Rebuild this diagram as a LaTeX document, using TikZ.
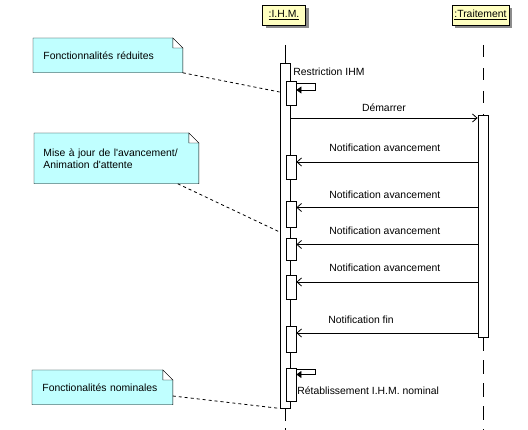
\documentclass[tikz,border=0pt]{standalone}
\usepackage{fontspec}
\setmainfont{Liberation Sans}
\usetikzlibrary{shadows,arrows.meta,backgrounds}
\definecolor{hdrfill}{HTML}{FFFFC0}
\definecolor{notefill}{HTML}{C0FFFF}
\definecolor{shadowgray}{HTML}{8C8C8C}
\begin{document}
\begin{tikzpicture}[x=1pt,y=-1pt,line width=0.8pt,
  font=\fontsize{10.4}{12}\selectfont,
  header/.style={draw,fill=hdrfill,minimum height=20pt,inner sep=2pt,
    drop shadow={shadow xshift=3pt,shadow yshift=-3pt,fill=shadowgray,opacity=1}},
  actbox/.style={draw,fill=white,minimum width=10pt,inner sep=0pt},
  notebox/.style={anchor=north west,align=left,inner ysep=0pt},
  msgarrow/.style={-{Straight Barb[length=4.5pt,width=8pt]}},
  selfarrow/.style={-{Triangle[length=5pt,width=7pt]}},
  notelink/.style={dash pattern=on 3pt off 3pt},
  lifedash/.style={dash pattern=on 12pt off 11pt},
  lifedashb/.style={dash pattern=on 14pt off 9pt},
  lbl/.style={inner sep=0pt}]
\useasboundingbox (0,0) rectangle (528,430);

% headers
\node[header,minimum width=43pt] (ihm) at (284,15) {\underline{:I.H.M.}};
\node[header,minimum width=57pt] (trt) at (480.5,15) {\underline{:Traitement}};
\coordinate (ihmL) at (285,45);
\coordinate (trtL) at (483,45);

% activations
\node[actbox,minimum height=345pt] (mact) at (285,235.5) {};
\node[actbox,minimum height=222pt] (tact) at (483,226) {};
\node[actbox,minimum height=24pt] (a1) at (291,93) {};
\node[actbox,minimum height=24pt] (a2) at (291,167) {};
\node[actbox,minimum height=26pt] (a3) at (291,214) {};
\node[actbox,minimum height=22pt] (a4) at (291,249) {};
\node[actbox,minimum height=24pt] (a5) at (291,287) {};
\node[actbox,minimum height=26pt] (a6) at (291,339) {};
\node[actbox,minimum height=33pt] (a7) at (291,384.5) {};

% lifelines
\draw (ihmL) -- (mact.north);
\draw[dash pattern=on 13pt off 7pt] (mact.south) -- (ihmL |- 0,432);
\draw[lifedash] (trtL) -- (tact.north);
\draw[lifedashb] (tact.south) -- (trtL |- 0,432);

% self messages
\draw[selfarrow] (a1.east |- 0,83) -- (315,83) -- (315,90) -- (a1.east |- 0,90);
\node[lbl,anchor=west] (lrestr) at (293,71.5) {Restriction IHM};
\draw[selfarrow] (a7.east |- 0,369) -- (315,369) -- (315,374.5) -- (a7.east |- 0,374.5);
\node[lbl,anchor=west] (lretab) at (297,391) {Rétablissement I.H.M. nominal};

% messages
\draw[msgarrow] (mact.east |- 0,118) -- (tact.west |- 0,118);
\node[lbl] (ldem) at (384,108) {Démarrer};
\draw[msgarrow] (tact.west |- 0,162) -- (a2.east |- 0,162);
\node[lbl,anchor=west] (ln1) at (329,148) {Notification avancement};
\draw[msgarrow] (tact.west |- 0,207.5) -- (a3.east |- 0,207.5);
\node[lbl,anchor=west] (ln2) at (329,195) {Notification avancement};
\draw[msgarrow] (tact.west |- 0,244.5) -- (a4.east |- 0,244.5);
\node[lbl,anchor=west] (ln3) at (329,231) {Notification avancement};
\draw[msgarrow] (tact.west |- 0,282) -- (a5.east |- 0,282);
\node[lbl,anchor=west] (ln4) at (329,268) {Notification avancement};
\draw[msgarrow] (tact.west |- 0,333) -- (a6.east |- 0,333);
\node[lbl,anchor=west] (ln5) at (328,320) {Notification fin};

% notes
\node[notebox,minimum width=149pt,minimum height=34pt,text width=129pt,inner xsep=10pt] (n1) at (33,38) {Fonctionnalités réduites};
\node[notebox,minimum width=164pt,minimum height=50pt,text width=146pt,inner xsep=9pt] (n2) at (34,133) {Mise à jour de l\textquotesingle avancement/\\Animation d\textquotesingle attente};
\node[notebox,minimum width=140pt,minimum height=34pt,text width=120pt,inner xsep=10pt] (n3) at (32,370) {Fonctionalités nominales};
\begin{scope}[on background layer]
\foreach \n in {n1,n2,n3}{
  \draw[fill=notefill] (\n.north west) -- ([xshift=-10pt]\n.north east) -- ([yshift=-10pt]\n.north east) -- (\n.south east) -- (\n.south west) -- cycle;
  \draw[fill=white] ([xshift=-10pt]\n.north east) -- ([xshift=-10pt,yshift=-10pt]\n.north east) -- ([yshift=-10pt]\n.north east) -- cycle;
}
\end{scope}

% note links
\draw[notelink] (n1.south east) -- (mact.west |- 0,92);
\draw[notelink] ([xshift=-21pt]n2.south east) -- (mact.west |- 0,232);
\draw[notelink] (n3.east |- 0,396) -- (mact.south west);
\end{tikzpicture}
\end{document}
